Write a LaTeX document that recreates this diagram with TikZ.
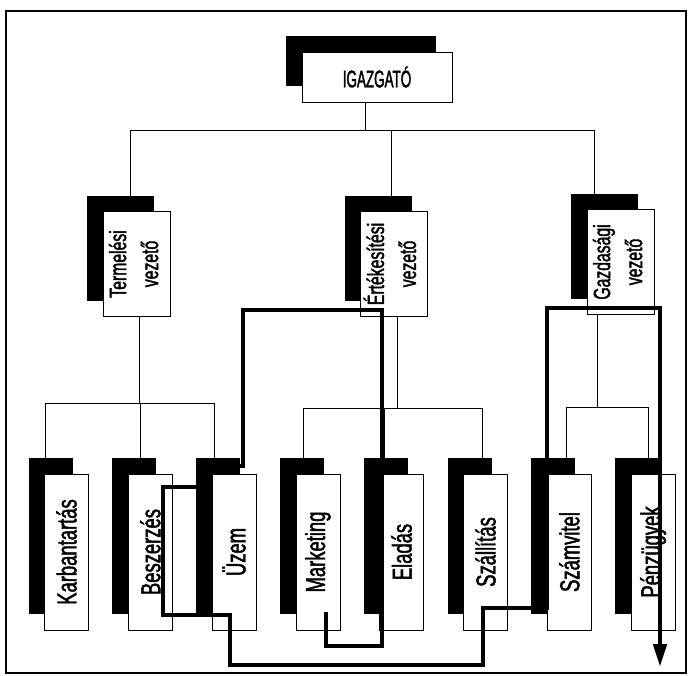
\documentclass[tikz,border=0pt]{standalone}
\usepackage{fontspec}
\setmainfont{Liberation Sans}[FakeStretch=0.67,FakeBold=1.6]
\newfontfamily\chieffont{Liberation Sans}[FakeStretch=0.56,FakeBold=1.6]
\usepackage{graphicx}
\usetikzlibrary{arrows.meta,positioning,shadows,backgrounds}

\begin{document}
\begin{tikzpicture}[
  x=1pt,
  y=-1pt,
  node distance=39pt,
  unit/.style={
    draw,
    fill=white,
    line width=0.8pt,
    inner sep=0pt,
    general shadow={fill=black,shadow xshift=-16pt,shadow yshift=16pt}
  },
  chief/.style={
    unit,
    minimum width=150pt,
    minimum height=50pt,
    font=\chieffont\fontsize{24}{28}\selectfont
  },
  head/.style={
    unit,
    minimum width=67pt,
    minimum height=105pt,
    font=\fontsize{23.5}{28}\selectfont
  },
  dept/.style={
    unit,
    minimum width=44pt,
    minimum height=156pt,
    font=\fontsize{27.5}{32}\selectfont
  },
  link/.style={line width=0.7pt},
  flow/.style={line width=4.5pt}
]
  \useasboundingbox (0,0) rectangle (691,675);
  \draw[line width=1.6pt] (6,11) rectangle (686,673);

  % vezetes
  \node[chief] (igaz) at (377,77) {IGAZGATÓ};
  \node[head] (termv) at (136.5,264)
    {\rotatebox{90}{\begin{tabular}{@{}c@{}}Termelési\\[4pt]vezető\end{tabular}}};
  \node[head] (ertv) at (394,264)
    {\rotatebox{90}{\begin{tabular}{@{}c@{}}Értékesítési\\[4pt]vezető\end{tabular}}};
  \node[head] (gazv) at (620.5,262)
    {\rotatebox{90}{\begin{tabular}{@{}c@{}}Gazdasági\\[4pt]vezető\end{tabular}}};

  % osztalyok
  \node[dept] (karb) at (66.5,552) {\rotatebox{90}{Karbantartás}};
  \node[dept,right=of karb] (besz) {\rotatebox{90}{Beszerzés}};
  \node[dept,right=of besz] (uzem) {\rotatebox{90}{Üzem}};
  \node[dept,right=of uzem] (mark) {\rotatebox{90}{Marketing}};
  \node[dept,right=of mark] (elad) {\rotatebox{90}{Eladás}};
  \node[dept,right=of elad] (szall) {\rotatebox{90}{Szállítás}};
  \node[dept,right=of szall] (szamv) {\rotatebox{90}{Számvitel}};
  \node[dept,right=of szamv] (penz) {\rotatebox{90}{Pénzügyek}};

  \begin{scope}[on background layer]
    \coordinate (topbus) at (0,130);
    \coordinate (lbus) at (0,403);
    \coordinate (mbus) at (0,408);
    \coordinate (rbus) at (0,407);
    \draw[link] ([xshift=-12pt]igaz.south) -- ([xshift=-12pt]igaz.south |- topbus);
    \draw[link] ([xshift=-6pt]termv.north) |- ([xshift=-26pt]gazv.north |- topbus)
      -- ([xshift=-26pt]gazv.north);
    \draw[link] ([xshift=-3pt]ertv.north) -- ([xshift=-3pt]ertv.north |- topbus);

    \draw[link] ([xshift=2.5pt]termv.south) -- ([xshift=2.5pt]termv.south |- lbus);
    \draw[link] ([xshift=-21pt]karb.north) |- ([xshift=-20pt]uzem.north |- lbus)
      -- ([xshift=-20pt]uzem.north);
    \draw[link] ([xshift=-9.5pt]besz.north) -- ([xshift=-9.5pt]besz.north |- lbus);

    \draw[link] ([xshift=3pt]ertv.south) -- ([xshift=3pt]ertv.south |- mbus);
    \draw[link] ([xshift=-14.5pt]mark.north) |- ([xshift=-3.5pt]szall.north |- mbus)
      -- ([xshift=-3.5pt]szall.north);
    \draw[link] ([xshift=-17.5pt]elad.north) -- ([xshift=-17.5pt]elad.north |- mbus);

    \draw[link] ([xshift=-23.5pt]gazv.south) -- ([xshift=-23.5pt]gazv.south |- rbus);
    \draw[link] ([xshift=-2.5pt]szamv.north) |- ([xshift=-4.5pt]penz.north |- rbus)
      -- ([xshift=-4.5pt]penz.north);
  \end{scope}

  % folyamat
  \coordinate (flow start) at (326,612);
  \coordinate (flow end) at (660,667);
  \draw[flow,-{Triangle[length=23pt,width=13pt]}] (flow start) -- (326,646)
    -- (382,646) -- (382,310) -- (243,310) -- (243,466) -- (202,466)
    -- (202,487) -- (163,487) -- (163,615) -- (230,615) -- (230,665)
    -- (483,665) -- (483,608) -- (547,608) -- (547,308) -- (660,308)
    -- (flow end);
\end{tikzpicture}
\end{document}
